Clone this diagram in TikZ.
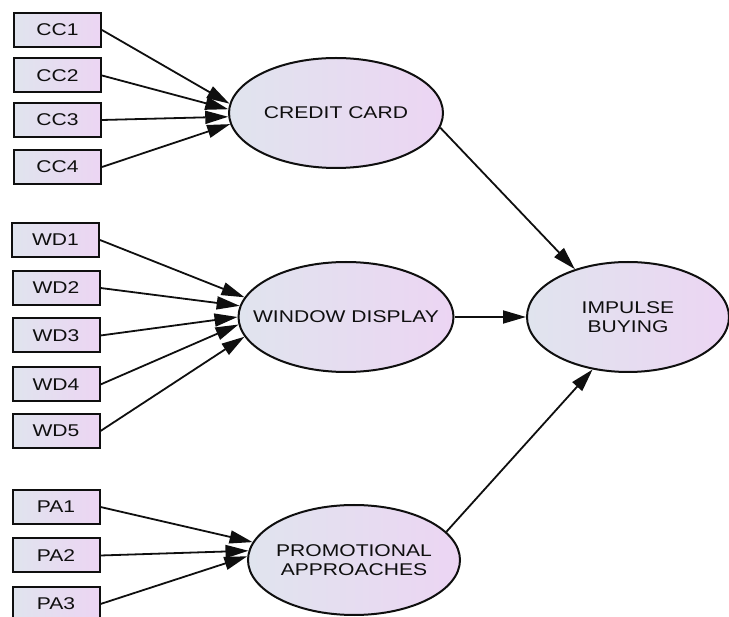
\documentclass[tikz,border=0pt]{standalone}
\usepackage{fontspec}
\setmainfont{Liberation Sans}[FakeStretch=1.24]
\usetikzlibrary{arrows.meta,shapes.geometric}
\definecolor{shadeL}{RGB}{224,228,238}
\definecolor{shadeR}{RGB}{236,213,243}
\definecolor{inkline}{RGB}{15,15,15}
\begin{document}
\begin{tikzpicture}[x=1pt,y=-1pt,
  labelfont/.style={font=\fontsize{17}{19.5}\selectfont, text=inkline},
  indicator/.style={draw=inkline, line width=2pt, minimum width=87pt, minimum height=34pt,
    inner sep=0pt, left color=shadeL, right color=shadeR, labelfont},
  % negative inner sep keeps the outline at its minimum size
  construct/.style={ellipse, draw=inkline, line width=2pt, inner xsep=-45pt, inner ysep=-15pt,
    align=center, left color=shadeL, right color=shadeR, labelfont},
  link/.style={draw=inkline, line width=1.8pt, -{Triangle[length=23pt,width=13pt]}}]
\clip (0,0) rectangle (729,617);

% latent constructs
\node[construct, minimum width=214pt, minimum height=110pt] (credit) at (336,113) {CREDIT CARD};
\node[construct, minimum width=215pt, minimum height=110pt] (window) at (346,317) {WINDOW DISPLAY};
\node[construct, minimum width=202pt, minimum height=110pt] (impulse) at (628,317) {IMPULSE\\BUYING};
\node[construct, minimum width=212pt, minimum height=110pt] (promo) at (354,560) {PROMOTIONAL\\APPROACHES};

% indicators
\node[indicator] (cc1) at (57.5,30) {CC1};
\node[indicator] (cc2) at (57.5,75.5) {CC2};
\node[indicator] (cc3) at (57.5,120) {CC3};
\node[indicator] (cc4) at (57.5,167) {CC4};

\node[indicator] (wd1) at (55.5,240) {WD1};
\node[indicator] (wd2) at (56,288) {WD2};
\node[indicator] (wd3) at (56,335.5) {WD3};
\node[indicator] (wd4) at (56,384.5) {WD4};
\node[indicator] (wd5) at (56,431) {WD5};

\node[indicator] (pa1) at (56,507) {PA1};
\node[indicator] (pa2) at (56,555.5) {PA2};
\node[indicator] (pa3) at (56,604) {PA3};

% indicator paths
\draw[link] (cc1.east) -- (credit.175);
\draw[link] (cc2.east) -- (credit.178);
\draw[link] (cc3.east) -- (credit.182);
\draw[link] (cc4.east) -- (credit.186);

\draw[link] (wd1.east) -- (window.169);
\draw[link] (wd2.east) -- (window.174);
\draw[link] (wd3.east) -- (window.180);
\draw[link] (wd4.east) -- (window.184);
\draw[link] (wd5.east) -- (window.191);

\draw[link] (pa1.east) -- (promo.170);
\draw[link] (pa2.east) -- (promo.175);
\draw[link] (pa3.east) -- (promo.178);

% structural paths
\draw[link] (credit.-8) -- (impulse.138);
\draw[link] (window.east) -- (impulse.west);
\draw[link] (promo.17) -- (impulse.236);
\end{tikzpicture}
\end{document}
